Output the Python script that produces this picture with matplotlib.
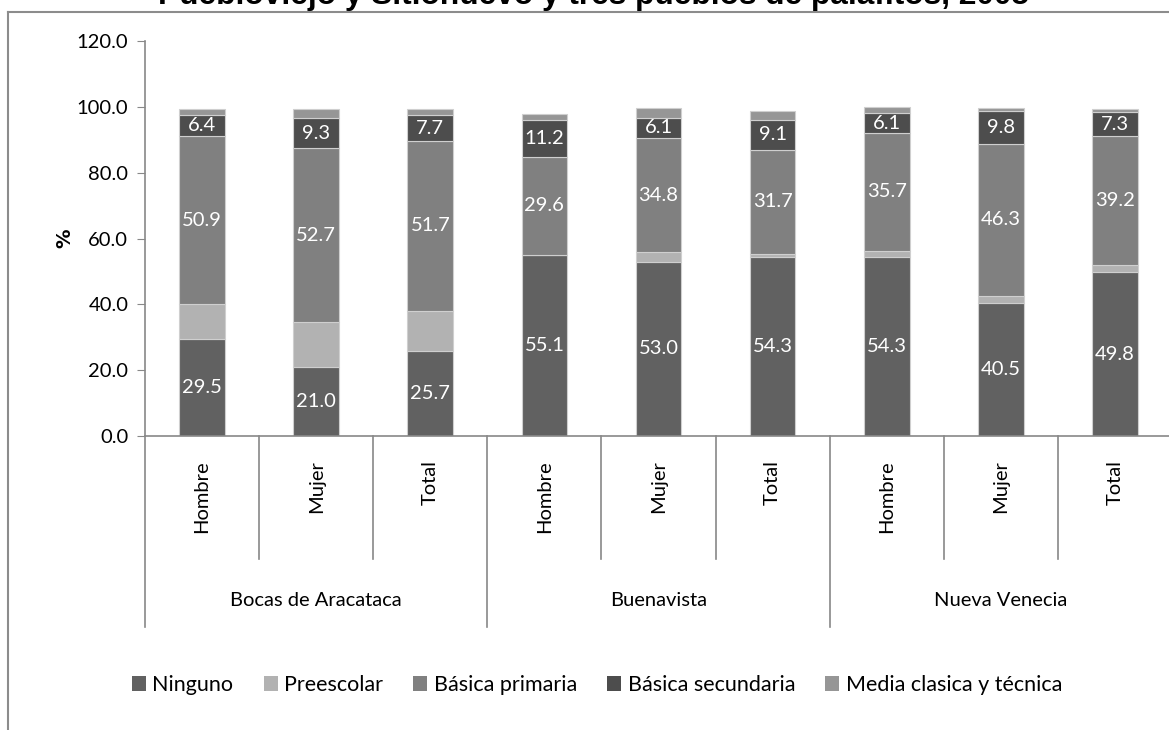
import matplotlib
matplotlib.use("Agg")
import matplotlib.pyplot as plt
from matplotlib.lines import Line2D
from matplotlib.patches import Patch
import numpy as np

plt.rcParams['font.family'] = ['Lato', 'DejaVu Sans']

groups = ["Bocas de Aracataca", "Buenavista", "Nueva Venecia"]
subcats = ["Hombre", "Mujer", "Total"] * 3
series_names = ["Ninguno", "Preescolar", "Básica primaria", "Básica secundaria", "Media clasica y técnica"]
ninguno = [29.5, 21.0, 25.7, 55.1, 53.0, 54.3, 54.3, 40.5, 49.8]
preescolar = [10.6, 13.7, 12.3, 0.0, 2.8, 1.0, 2.0, 2.0, 2.0]
primaria = [50.9, 52.7, 51.7, 29.6, 34.8, 31.7, 35.7, 46.3, 39.2]
secundaria = [6.4, 9.3, 7.7, 11.2, 6.1, 9.1, 6.1, 9.8, 7.3]
media = [1.9, 2.6, 1.9, 1.8, 3.0, 2.6, 1.7, 1.0, 1.0]
labelled = [True, False, True, True, False]
colors = ["#616161", "#b2b2b2", "#808080", "#4d4d4d", "#969696"]
title = "Puebloviejo y Sitionuevo y tres pueblos de palafitos, 2005"

W, H = 1169, 730
fig = plt.figure(figsize=(W / 100, H / 100), dpi=100)

# axes placement (pixel-based)
x0, x1 = 145, 1172
y_top, y_bot = 41, 436
ax = fig.add_axes([x0 / W, 1 - y_bot / H, (x1 - x0) / W, (y_bot - y_top) / H])

data = [ninguno, preescolar, primaria, secundaria, media]
x = np.arange(len(subcats))
bottom = np.zeros(len(subcats))
for name, vals, col, lab in zip(series_names, data, colors, labelled):
    vals = np.array(vals)
    ax.bar(x, vals, width=0.4, bottom=bottom, color=col, edgecolor="#cfcfcf",
           linewidth=0.8, label=name)
    if lab:
        for xi, b, v in zip(x, bottom, vals):
            ax.text(xi, b + v / 2, f"{v:.1f}", ha="center", va="center",
                    color="white", fontsize=14.5)
    bottom = bottom + vals

ax.set_xlim(-0.5, 8.5)
ax.set_ylim(0, 120)
ax.set_yticks(np.arange(0, 121, 20))
ax.set_yticklabels([f"{v:.1f}" for v in np.arange(0, 121, 20)], fontsize=14.5)
ax.tick_params(axis="y", direction="out", length=6, color="#888888", pad=6)
ax.set_xticks([])
for s in ["top", "right"]:
    ax.spines[s].set_visible(False)
for s in ["left", "bottom"]:
    ax.spines[s].set_color("#888888")
    ax.spines[s].set_linewidth(1.2)

ax.set_ylabel("%", fontsize=14, fontweight="bold", labelpad=2, family="DejaVu Sans")

# category axis separators and labels
trans = ax.get_xaxis_transform()
ph = y_bot - y_top
short_y = -(559 - y_bot) / ph
long_y = -(627 - y_bot) / ph
for i in range(len(subcats) + 1):
    xb = i - 0.5
    yb = long_y if i % 3 == 0 else short_y
    ax.add_line(Line2D([xb, xb], [0, yb], transform=trans, color="#888888",
                       lw=1.2, clip_on=False))
for i, c in enumerate(subcats):
    ax.text(i, -(460 - y_bot) / ph, c, transform=trans, rotation=90,
            ha="center", va="top", fontsize=14.5)
for g, name in enumerate(groups):
    ax.text(3 * g + 1, -(600 - y_bot) / ph, name, transform=trans,
            ha="center", va="center", fontsize=14.5)

# legend
handles = [Patch(facecolor=c, edgecolor="none") for c in colors]
fig.legend(handles, series_names, loc="center", bbox_to_anchor=(597 / W, 1 - 685 / H),
           ncol=5, frameon=False, fontsize=15.5, handlelength=0.65, handleheight=0.65,
           handletextpad=0.3, columnspacing=1.4)

# chart area border (top and left)
fig.add_artist(Line2D([8 / W, 1.0], [1 - 12 / H, 1 - 12 / H], transform=fig.transFigure,
                      color="#8c8c8c", lw=1.5))
fig.add_artist(Line2D([8 / W, 8 / W], [1 - 12 / H, 0], transform=fig.transFigure,
                      color="#8c8c8c", lw=1.5))

# title (cut off at the top edge, as in the reference)
fig.text(594 / W, 1 - 4 / H, title, ha="center", va="baseline", fontsize=22.8,
         fontweight="bold", family="Liberation Sans")

fig.savefig("out.png", dpi=100)
